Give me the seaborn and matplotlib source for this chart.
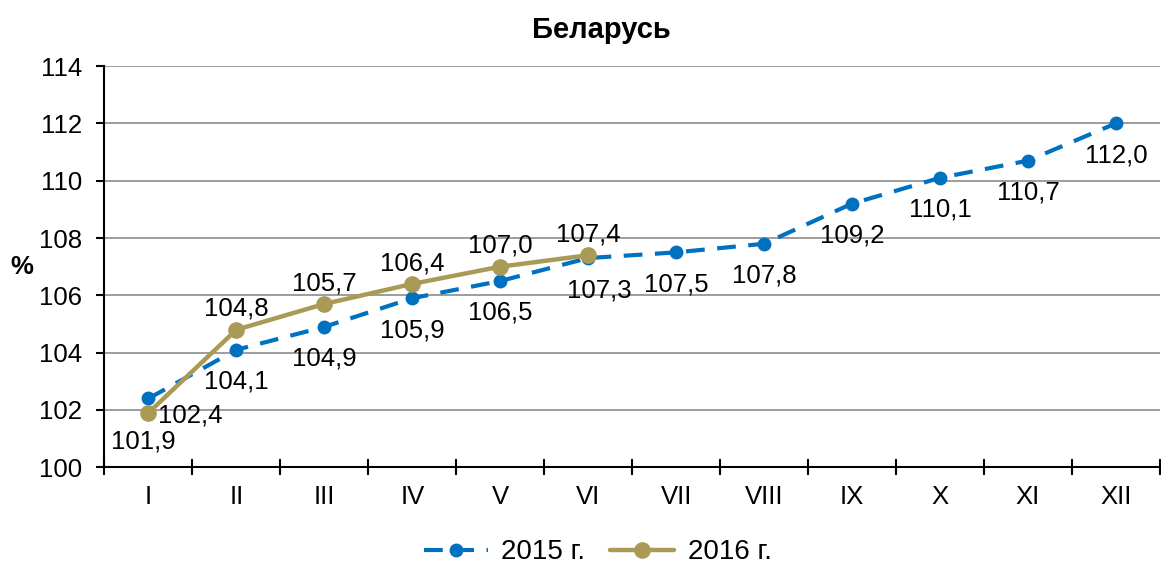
import seaborn as sns
import matplotlib.pyplot as plt
import pandas as pd
import numpy as np

months = ["I", "II", "III", "IV", "V", "VI", "VII", "VIII", "IX", "X", "XI", "XII"]
val2015 = [102.4, 104.1, 104.9, 105.9, 106.5, 107.3, 107.5, 107.8, 109.2, 110.1, 110.7, 112.0]
val2016 = [101.9, 104.8, 105.7, 106.4, 107.0, 107.4]

blue = "#0070C0"
khaki = "#A99A55"

sns.set_style("white")
plt.rcParams['font.family'] = ['Liberation Sans', 'DejaVu Sans']
plt.rcParams['text.color'] = 'black'
plt.rcParams['xtick.color'] = 'black'
plt.rcParams['ytick.color'] = 'black'
plt.rcParams['axes.labelcolor'] = 'black'

df = pd.DataFrame({
    "pos": list(range(len(val2015))) + list(range(len(val2016))),
    "val": val2015 + val2016,
    "year": ["2015 г."] * len(val2015) + ["2016 г."] * len(val2016),
})

fig, ax = plt.subplots(figsize=(11.61, 5.65), dpi=100)
fig.subplots_adjust(left=0.09, right=0.999, top=0.883, bottom=0.173)

ax.yaxis.grid(True, color="#8c8c8c", linewidth=1.2)
ax.set_axisbelow(True)

sns.lineplot(data=df[df.year == "2015 г."], x="pos", y="val", ax=ax, color=blue,
             linewidth=3, linestyle=(0, (4.5, 3)), marker="o", markersize=10,
             markeredgewidth=0, label="2015 г.")
sns.lineplot(data=df[df.year == "2016 г."], x="pos", y="val", ax=ax, color=khaki,
             linewidth=3.2, marker="o", markersize=12, markeredgewidth=0,
             label="2016 г.")

fs = 18.5
for i, v in enumerate(val2015):
    txt = f"{v:.1f}".replace(".", ",")
    if i == 0:
        ax.annotate(txt, (i, v), xytext=(30, -12), textcoords="offset points",
                    ha="center", va="center", fontsize=fs)
    else:
        ax.annotate(txt, (i, v), xytext=(8 if i == 5 else 0, -23), textcoords="offset points",
                    ha="center", va="center", fontsize=fs)
for i, v in enumerate(val2016):
    txt = f"{v:.1f}".replace(".", ",")
    if i == 0:
        ax.annotate(txt, (i, v), xytext=(-4, -21), textcoords="offset points",
                    ha="center", va="center", fontsize=fs)
    else:
        ax.annotate(txt, (i, v), xytext=(0, 15), textcoords="offset points",
                    ha="center", va="center", fontsize=fs)

ax.set_xlim(-0.5, len(months) - 0.5)
ax.set_ylim(100, 114)
ax.set_yticks(np.arange(100, 115, 2))
ax.set_xticks(np.arange(-0.5, len(months), 1))
ax.set_xticklabels([])
ax.set_xticks(range(len(months)), minor=True)
ax.set_xticklabels(months, minor=True)
ax.tick_params(axis="x", which="major", direction="inout", length=11, width=1.5, color="black", bottom=True)
ax.tick_params(axis="x", which="minor", length=0, labelsize=fs, pad=13)
ax.tick_params(axis="y", direction="out", length=6, width=1.5, color="black", left=True, labelsize=fs, pad=10)

for s in ["top", "right"]:
    ax.spines[s].set_visible(False)
for s in ["left", "bottom"]:
    ax.spines[s].set_color("black")
    ax.spines[s].set_linewidth(1.5)

ax.set_xlabel("")
ax.set_ylabel("%", fontsize=fs, fontweight="bold", rotation=0, va="center")
ax.yaxis.set_label_coords(-0.078, 0.5)
ax.set_title("Беларусь", fontsize=21, fontweight="bold", pad=20, x=0.471)

ax.get_legend().remove()
handles, labels = ax.get_legend_handles_labels()
fig.legend(handles, labels, loc="lower center", bbox_to_anchor=(0.515, -0.045), ncol=2,
           frameon=False, fontsize=20, handlelength=2.3, columnspacing=0.9, handletextpad=0.5)

plt.savefig("out.png", dpi=100)
